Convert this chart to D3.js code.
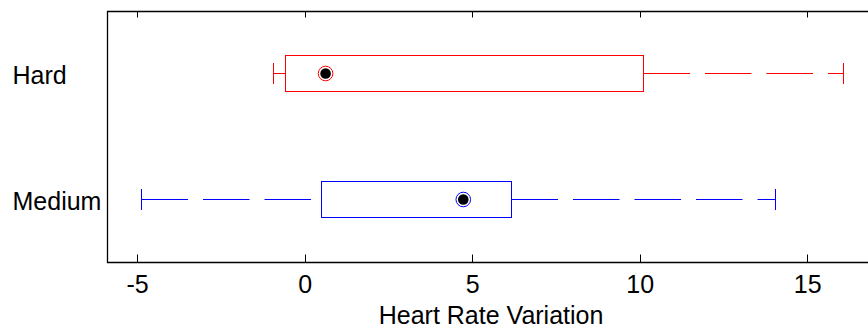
<!DOCTYPE html>
<html>
<head>
<meta charset="utf-8">
<script src="https://cdn.jsdelivr.net/npm/d3@7"></script>
<style>
  body { margin: 0; background: #fff; }
  text { font-family: "Liberation Sans", Arial, sans-serif; font-size: 25px; fill: #000; }
</style>
</head>
<body>
<div id="chart"></div>
<script>
// box plot summary per group
const categories = ['Medium', 'Hard'];
const lowerWhisker = [-4.88, -0.95];
const q1 = [0.48, -0.6];
const medians = [4.72, 0.61];
const q3 = [6.16, 10.09];
const upperWhisker = [14.04, 16.06];
const groupColors = ['#0000ff', '#ff0000'];
const xTicks = [-5, 0, 5, 10, 15];
const xLabel = 'Heart Rate Variation';

const width = 868, height = 329;
const frame = { left: 107.5, top: 11.5, bottom: 262.5 };
const boxHalf = 18, capHalf = 10.5;

// snap to pixel centres so 1px lines stay crisp
const px = v => Math.round(v - 0.5) + 0.5;

const svg = d3.select('#chart').append('svg')
  .attr('width', width)
  .attr('height', height);

const x = d3.scaleLinear().domain([-5.9, 17]).range([frame.left, frame.left + 22.9 * 33.5]);
const y = d3.scaleLinear().domain([0.5, 2.5]).range([262.5, 10.5]);

const rows = categories.map((name, i) => ({
  name,
  pos: i + 1,
  lo: lowerWhisker[i],
  q1: q1[i],
  med: medians[i],
  q3: q3[i],
  hi: upperWhisker[i],
  color: groupColors[i],
}));

const g = svg.append('g');

// whiskers: lower runs from end to box, upper from box to end (dash phase matters)
g.selectAll('.whisker-lo')
  .data(rows)
  .enter()
  .append('line')
  .attr('x1', d => px(x(d.lo))).attr('x2', d => px(x(d.q1)))
  .attr('y1', d => px(y(d.pos))).attr('y2', d => px(y(d.pos)))
  .attr('stroke', d => d.color)
  .attr('stroke-dasharray', '46.5,15');

g.selectAll('.whisker-hi')
  .data(rows)
  .enter()
  .append('line')
  .attr('x1', d => px(x(d.q3))).attr('x2', d => px(x(d.hi)))
  .attr('y1', d => px(y(d.pos))).attr('y2', d => px(y(d.pos)))
  .attr('stroke', d => d.color)
  .attr('stroke-dasharray', '46.5,15');

// caps
['lo', 'hi'].forEach(k => {
  g.selectAll('.cap-' + k)
    .data(rows)
    .enter()
    .append('line')
    .attr('x1', d => px(x(d[k]))).attr('x2', d => px(x(d[k])))
    .attr('y1', d => px(y(d.pos)) - capHalf).attr('y2', d => px(y(d.pos)) + capHalf)
    .attr('stroke', d => d.color);
});

// boxes
g.selectAll('.box')
  .data(rows)
  .enter()
  .append('rect')
  .attr('x', d => px(x(d.q1)))
  .attr('width', d => px(x(d.q3)) - px(x(d.q1)))
  .attr('y', d => px(y(d.pos)) - boxHalf)
  .attr('height', boxHalf * 2)
  .attr('fill', 'none')
  .attr('stroke', d => d.color);

// median markers: coloured ring with black dot
g.selectAll('.med-ring')
  .data(rows)
  .enter()
  .append('circle')
  .attr('cx', d => x(d.med)).attr('cy', d => px(y(d.pos)))
  .attr('r', 7.3)
  .attr('fill', '#fff')
  .attr('stroke', d => d.color);

g.selectAll('.med-dot')
  .data(rows)
  .enter()
  .append('circle')
  .attr('cx', d => x(d.med)).attr('cy', d => px(y(d.pos)))
  .attr('r', 5.3)
  .attr('fill', '#000');

// frame
const right = x.range()[1];
svg.append('path')
  .attr('d', `M${right},${frame.top}H${frame.left}V${frame.bottom}H${right}`)
  .attr('fill', 'none')
  .attr('stroke', '#000')
  .attr('stroke-width', 1.3);

// inward ticks on bottom and top
svg.selectAll('.tick-b')
  .data(xTicks)
  .enter()
  .append('line')
  .attr('x1', d => px(x(d))).attr('x2', d => px(x(d)))
  .attr('y1', frame.bottom).attr('y2', frame.bottom - 8)
  .attr('stroke', '#000');

svg.selectAll('.tick-t')
  .data(xTicks)
  .enter()
  .append('line')
  .attr('x1', d => px(x(d))).attr('x2', d => px(x(d)))
  .attr('y1', frame.top).attr('y2', frame.top + 6)
  .attr('stroke', '#000');

svg.selectAll('.tick-label')
  .data(xTicks)
  .enter()
  .append('text')
  .attr('x', d => x(d))
  .attr('y', 293)
  .attr('text-anchor', 'middle')
  .text(d => d);

// category labels (left aligned, as in the original)
svg.selectAll('.cat-label')
  .data(rows)
  .enter()
  .append('text')
  .attr('x', 12.5)
  .attr('y', d => y(d.pos) + 10)
  .text(d => d.name);

svg.append('text')
  .attr('x', (x.range()[0] + x.range()[1]) / 2)
  .attr('y', 323.5)
  .attr('text-anchor', 'middle')
  .text(xLabel);
</script>
</body>
</html>
